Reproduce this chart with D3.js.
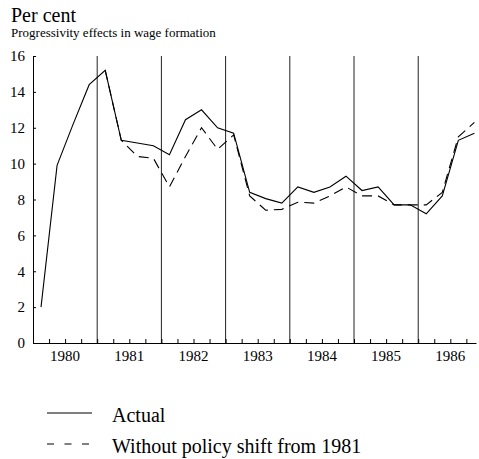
<!DOCTYPE html>
<html>
<head>
<meta charset="utf-8">
<script src="https://cdn.jsdelivr.net/npm/d3@7"></script>
<style>
  body { margin: 0; background: #fff; }
  svg text { font-family: "Liberation Serif", "Times New Roman", serif !important; fill: #000; }
</style>
</head>
<body>
<div id="chart"></div>
<script>
// quarterly data, 1980Q1 .. 1986Q4
const years = [1980, 1981, 1982, 1983, 1984, 1985, 1986];
const yTicks = [0, 2, 4, 6, 8, 10, 12, 14, 16];
const actual = [2.0, 9.9, 12.2, 14.4, 15.2, 11.3, 11.15, 11.0,
                10.5, 12.45, 13.0, 12.0, 11.7, 8.4, 8.05, 7.8,
                8.7, 8.4, 8.7, 9.3, 8.5, 8.7, 7.7, 7.7,
                7.2, 8.2, 11.3, 11.7];
const withoutShift = [null, null, null, null, 15.2, 11.3, 10.4, 10.3,
                      8.7, 10.4, 12.0, 10.8, 11.6, 8.2, 7.4, 7.45,
                      7.85, 7.8, 8.2, 8.7, 8.2, 8.2, 7.7, 7.7,
                      7.7, 8.4, 11.5, 12.3];
const seriesNames = ["Actual", "Without policy shift from 1981"];

const width = 479, height = 459;
const svg = d3.select("#chart").append("svg")
  .attr("width", width)
  .attr("height", height);

const x = d3.scaleLinear().domain([1980, 1986.9]).range([33, 476]);
const y = d3.scaleLinear().domain([0, 16]).range([343, 56]);

const tQ = i => years[0] + (i + 0.5) / 4;

// titles
svg.append("text").attr("x", 11).attr("y", 22)
  .style("font-size", "20px").text("Per cent");
svg.append("text").attr("x", 11).attr("y", 37)
  .style("font-size", "13px").text("Progressivity effects in wage formation");

// year separators
svg.append("g").selectAll("line")
  .data(years.slice(1))
  .join("line")
  .attr("x1", d => x(d)).attr("x2", d => x(d))
  .attr("y1", y(16)).attr("y2", y(0))
  .attr("stroke", "#222").attr("stroke-width", 1);

// axes
const quarterTicks = d3.range(1, 28).map(k => years[0] + k / 4);
const xAxis = svg.append("g")
  .attr("transform", `translate(0,${y(0)})`)
  .call(d3.axisBottom(x).tickValues(quarterTicks).tickSize(-4).tickFormat("").tickSizeOuter(0));
xAxis.select(".domain").attr("stroke", "#000");
xAxis.selectAll(".tick line").attr("stroke", "#000");

svg.append("g").selectAll("text")
  .data(years)
  .join("text")
  .attr("x", d => x(d + 0.5))
  .attr("y", y(0) + 18)
  .attr("text-anchor", "middle")
  .style("font-size", "15px")
  .text(d => d);

const yAxis = svg.append("g")
  .attr("transform", `translate(${x(1980)},0)`)
  .call(d3.axisLeft(y).tickValues(yTicks).tickSize(-3).tickPadding(8).tickSizeOuter(0));
yAxis.select(".domain").attr("stroke", "#000");
yAxis.selectAll(".tick line").attr("stroke", "#000");
yAxis.selectAll(".tick text").style("font-size", "15px");

// lines
const line = d3.line()
  .defined(d => d != null)
  .x((d, i) => x(tQ(i)))
  .y(d => y(d));

svg.append("path")
  .datum(withoutShift)
  .attr("fill", "none")
  .attr("stroke", "#000")
  .attr("stroke-width", 1.1)
  .attr("stroke-dasharray", "10,6")
  .attr("d", line);

svg.append("path")
  .datum(actual)
  .attr("fill", "none")
  .attr("stroke", "#000")
  .attr("stroke-width", 1.1)
  .attr("d", line);

// legend
const legend = svg.append("g");
seriesNames.forEach((name, i) => {
  const ly = 413 + i * 31;
  legend.append("line")
    .attr("x1", 47).attr("x2", 92)
    .attr("y1", ly).attr("y2", ly)
    .attr("stroke", "#000").attr("stroke-width", 1.1)
    .attr("stroke-dasharray", i === 1 ? "7,10.5" : null);
  legend.append("text")
    .attr("x", 112).attr("y", ly + 9)
    .style("font-size", "20px")
    .text(name);
});
</script>
</body>
</html>
